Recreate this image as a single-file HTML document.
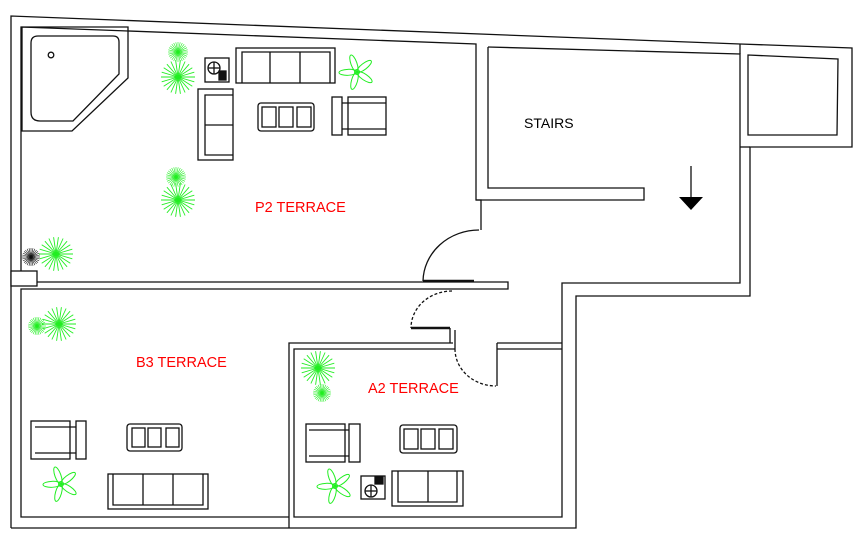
<!DOCTYPE html>
<html><head><meta charset="utf-8"><style>
html,body{margin:0;padding:0;background:#fff;width:862px;height:541px;overflow:hidden}
svg{display:block}
text{font-family:"Liberation Sans",sans-serif}
</style></head><body>
<svg id="s" width="862" height="541" viewBox="0 0 862 541" xmlns="http://www.w3.org/2000/svg">
<g fill="none" stroke="#111" stroke-width="1.3">
<polyline points="11,528 11,16 740,44 852,48 852,147 750,147 750,296 576,296 576,528 11,528"/>
<polyline points="21,282 21,27 476,44 476,200 481,200 481,230"/>
<polyline points="488,47 740,54 740,283 562,283 562,517 294,517 294,349 455,349"/>
<polyline points="488,47 488,188 644,188 644,200 476,200"/>
<line x1="740" y1="44" x2="740" y2="54"/>
<line x1="740" y1="147" x2="750" y2="147"/>
<polygon points="748,55 838,59 837,135 748,135"/>
<polyline points="21,282 508,282 508,289 21,289 21,517 289,517"/>
<rect x="11" y="271" width="26" height="15" fill="#fff"/>
<polyline points="289,528 289,343 453,343"/>
<polyline points="497,343 562,343"/><polyline points="497,349 562,349"/>
<line x1="497" y1="343" x2="497" y2="386"/>
<line x1="450" y1="328" x2="450" y2="343"/><line x1="455" y1="330" x2="455" y2="349"/>
<line x1="411" y1="328" x2="450" y2="328" stroke-width="2.5"/>
<line x1="423" y1="281" x2="474" y2="281" stroke-width="2.5"/>
<path d="M479,230 A56,52 0 0 0 423,281"/>
<path d="M452,291 A41,37 0 0 0 411,328" stroke-dasharray="3,2"/>
<path d="M455,349 A41,37 0 0 0 496,386" stroke-dasharray="3,2"/>
<line x1="691" y1="166" x2="691" y2="200"/>
<polygon points="22,27 128,27 128,78 72,131 22,131"/>
<path d="M38,36 H113 Q119,36 119,42 V74 L73,121 H40 Q31,121 31,112 V43 Q31,36 38,36 Z"/>
<circle cx="51" cy="55" r="2.8"/>
<rect x="236" y="48" width="99" height="35"/><polyline points="242,83 242,52 330,52 330,83"/>
<line x1="270" y1="52" x2="270" y2="83"/><line x1="300" y1="52" x2="300" y2="83"/>
<rect x="198" y="89" width="35" height="71"/><polyline points="233,95 205,95 205,155 233,155"/><line x1="205" y1="125" x2="233" y2="125"/>
<rect x="258" y="103" width="56" height="28" rx="3"/>
<rect x="262" y="107" width="14" height="20"/><rect x="279" y="107" width="14" height="20"/><rect x="297" y="107" width="14" height="20"/>
<rect x="332" y="97" width="10" height="38"/><rect x="348" y="97" width="38" height="38"/>
<line x1="342" y1="103" x2="386" y2="103"/><line x1="342" y1="129" x2="386" y2="129"/>
<rect x="205" y="58" width="24" height="24"/><circle cx="214" cy="68" r="6"/><line x1="208" y1="68" x2="220" y2="68"/><line x1="214" y1="62" x2="214" y2="74"/>
<rect x="219" y="71" width="7" height="9" fill="#111"/>
<rect x="31" y="421" width="39" height="38"/><rect x="76" y="421" width="10" height="38"/>
<line x1="35" y1="427" x2="76" y2="427"/><line x1="35" y1="453" x2="76" y2="453"/>
<rect x="127" y="424" width="55" height="27" rx="3"/>
<rect x="132" y="428" width="13" height="19"/><rect x="148" y="428" width="13" height="19"/><rect x="166" y="428" width="13" height="19"/>
<rect x="108" y="474" width="100" height="35"/><polyline points="113,474 113,505 203,505 203,474"/>
<line x1="143" y1="474" x2="143" y2="505"/><line x1="173" y1="474" x2="173" y2="505"/>
<rect x="306" y="424" width="39" height="38"/><rect x="349" y="424" width="11" height="38"/>
<line x1="309" y1="430" x2="349" y2="430"/><line x1="309" y1="456" x2="349" y2="456"/>
<rect x="400" y="425" width="57" height="28" rx="3"/>
<rect x="404" y="429" width="14" height="20"/><rect x="421" y="429" width="14" height="20"/><rect x="439" y="429" width="14" height="20"/>
<rect x="392" y="471" width="71" height="35"/><polyline points="398,471 398,502 457,502 457,471"/><line x1="428" y1="471" x2="428" y2="502"/>
<rect x="361" y="476" width="24" height="23"/><circle cx="371" cy="491" r="6"/><line x1="365" y1="491" x2="377" y2="491"/><line x1="371" y1="485" x2="371" y2="497"/>
<rect x="375" y="477" width="8" height="7" fill="#111"/>
</g>
<polygon points="679,197 703,197 691,210" fill="#000"/>
<g id="plants"></g>
<text x="524" y="128" font-size="14" fill="#000">STAIRS</text>
<text x="255" y="212" font-size="14.5" fill="#f00">P2 TERRACE</text>
<text x="136" y="367" font-size="14.5" fill="#f00">B3 TERRACE</text>
<text x="368" y="393" font-size="14.5" fill="#f00">A2 TERRACE</text>
</svg>
<script>
var g=document.getElementById('plants'),h='';
function star(cx,cy,r,n,c,w){for(var i=0;i<n;i++){var a=i*Math.PI*2/n;h+='<line x1="'+cx+'" y1="'+cy+'" x2="'+(cx+r*Math.cos(a)).toFixed(1)+'" y2="'+(cy+r*Math.sin(a)).toFixed(1)+'" stroke="'+c+'" stroke-width="'+(w||0.9)+'"/>';}}
function fan(cx,cy,c){for(var i=0;i<5;i++){var a=i*72-20;h+='<ellipse cx="'+cx+'" cy="'+(cy-9)+'" rx="3" ry="9" fill="none" stroke="'+c+'" stroke-width="1" transform="rotate('+a+' '+cx+' '+cy+')"/>';}h+='<circle cx="'+cx+'" cy="'+cy+'" r="2.5" fill="none" stroke="'+c+'"/>';}
var G='#22ee22';
star(178,52,10,28,G,0.6);star(178,77,17,22,G);
star(176,177,10,28,G,0.6);star(178,200,17,22,G);
star(31,257,9,28,'#111',0.6);star(56,254,17,22,G);
star(37,326,9,28,G,0.6);star(59,324,17,22,G);
star(318,368,17,22,G);star(322,393,9,28,G,0.6);
fan(357,72,G);fan(61,484,G);fan(335,486,G);
g.innerHTML=h;
</script>
</body></html>
